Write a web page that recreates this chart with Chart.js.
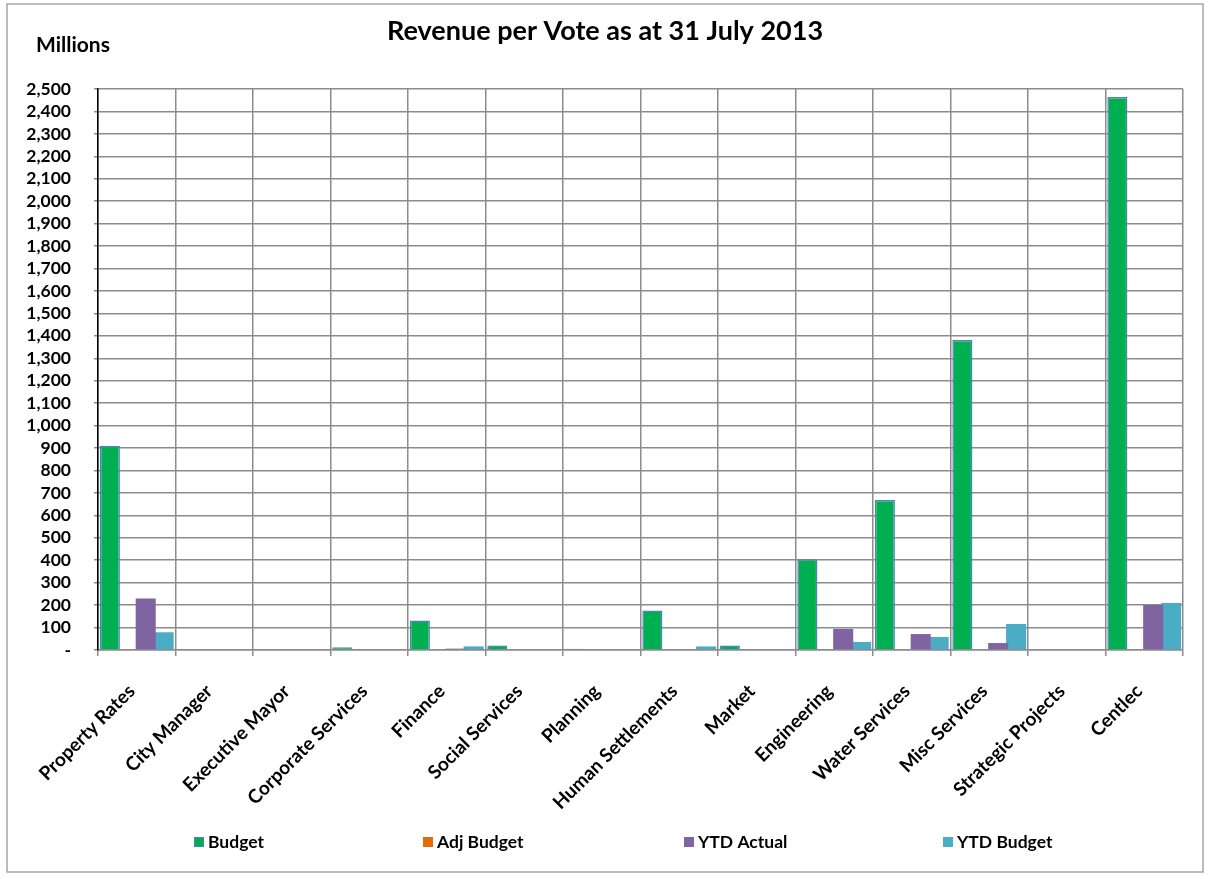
<!DOCTYPE html>
<html><head><meta charset="utf-8">
<script src="https://cdn.jsdelivr.net/npm/chart.js@4/dist/chart.umd.min.js"></script>
<style>html,body{margin:0;padding:0;background:#fff}#wrap{width:1210px;height:879px;position:relative}</style>
</head><body><div id="wrap"><canvas id="c" width="1210" height="879"></canvas></div>
<script>
const categories = ["Property Rates","City Manager","Executive Mayor","Corporate Services","Finance","Social Services","Planning","Human Settlements","Market","Engineering","Water Services","Misc Services","Strategic Projects","Centlec"];
const budget    = [910,0,0,12,131,20,6,176,20,404,668,1381,0,2464];
const adjBudget = [0,0,0,0,0,0,0,0,0,0,0,0,0,0];
const ytdActual = [230,0,0,0,6,0,0,0,0,94,71,31,0,200];
const ytdBudget = [79,0,0,0,16,0,0,16,0,36,58,116,0,209];
const seriesNames = ["Budget","Adj Budget","YTD Actual","YTD Budget"];
const titleText = "Revenue per Vote as at 31 July 2013";
const unitText = "Millions";

const FONT = "Lato, 'Open Sans', sans-serif";
const legendX = [194, 423, 684, 943];

const decor = {
  id: 'decor',
  afterDraw(chart) {
    const ctx = chart.ctx;
    ctx.save();
    ctx.strokeStyle = '#a6a6a6';
    ctx.lineWidth = 1.5;
    ctx.strokeRect(7, 4, 1196, 868);
    ctx.fillStyle = '#000';
    ctx.textBaseline = 'middle';
    ctx.textAlign = 'center';
    ctx.font = "bold 27px " + FONT;
    ctx.fillText(titleText, 605, 31);
    ctx.textAlign = 'left';
    ctx.font = "bold 21px " + FONT;
    ctx.fillText(unitText, 36, 45);
    // legend
    ctx.font = "bold 17.5px " + FONT;
    chart.data.datasets.forEach((ds, i) => {
      const x = legendX[i];
      ctx.fillStyle = ds.backgroundColor;
      ctx.fillRect(x, 837, 10, 10);
      if (ds.borderWidth) {
        ctx.strokeStyle = ds.borderColor; ctx.lineWidth = 1;
        ctx.strokeRect(x + 0.5, 837.5, 9, 9);
      }
      ctx.fillStyle = '#000';
      ctx.fillText(ds.label, x + 14, 842);
    });
    ctx.restore();
  }
};

new Chart(document.getElementById('c'), {
  type: 'bar',
  data: {
    labels: categories,
    datasets: [
      {label: seriesNames[0], data: budget, backgroundColor: '#00B050', borderColor: '#4F81BD', borderWidth: 1.5},
      {label: seriesNames[1], data: adjBudget, backgroundColor: '#E36C09', borderWidth: 0},
      {label: seriesNames[2], data: ytdActual, backgroundColor: '#8064A2', borderWidth: 0},
      {label: seriesNames[3], data: ytdBudget, backgroundColor: '#4BACC6', borderWidth: 0}
    ]
  },
  options: {
    responsive: false,
    animation: false,
    categoryPercentage: 0.925,
    barPercentage: 1.12,
    layout: {padding: {left: 10, right: 27, top: 89, bottom: 0}},
    plugins: {legend: {display: false}, title: {display: false}, tooltip: {enabled: false}},
    scales: {
      x: {
        grid: {color: '#8c8c8c', lineWidth: 1.5, tickLength: 6, offset: true},
        border: {color: '#8c8c8c', width: 1.5},
        ticks: {color: '#000', font: {family: FONT, size: 19, weight: 'bold'}, minRotation: 45, maxRotation: 45, autoSkip: false, padding: 24, labelOffset: -5},
        afterFit(s) { s.height = 229; }
      },
      y: {
        min: 0, max: 2500,
        grid: {color: '#8c8c8c', lineWidth: 1.5, tickLength: 4},
        border: {color: '#000', width: 1.5},
        ticks: {stepSize: 100, autoSkip: false, color: '#000', padding: 23,
          font: {family: FONT, size: 17.5, weight: 'bold'},
          callback: v => v === 0 ? '-' : v.toLocaleString('en-US')},
        afterFit(s) { s.width = 88; }
      }
    }
  },
  plugins: [decor]
});
</script></body></html>
